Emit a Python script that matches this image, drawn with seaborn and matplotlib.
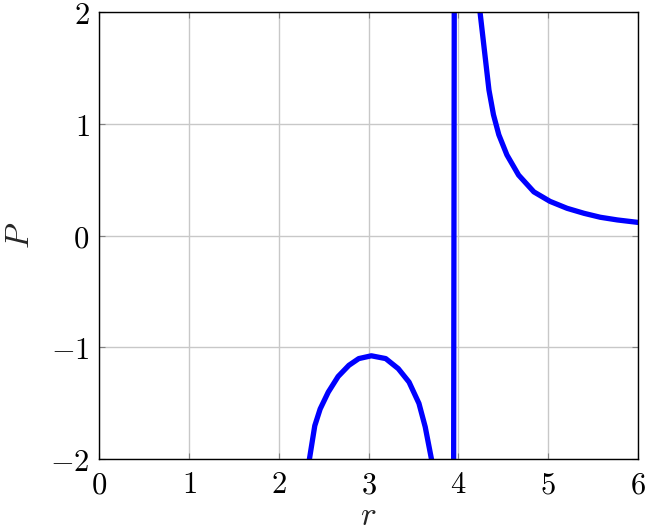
import matplotlib
matplotlib.use("Agg")
import matplotlib.pyplot as plt
import seaborn as sns
import pandas as pd

# values (r, P); points beyond the view are estimates
r_values = [2.30, 2.34, 2.40, 2.46, 2.55, 2.66, 2.78, 2.89, 3.03, 3.19, 3.33,
            3.45, 3.56, 3.63, 3.70, 3.80, 3.90, 4.00, 4.10, 4.24, 4.30, 4.34,
            4.39, 4.45, 4.54, 4.67, 4.84, 5.02, 5.21, 5.40, 5.58, 5.77, 6.00]
P_values = [-2.25, -2.00, -1.70, -1.55, -1.40, -1.26, -1.16, -1.10, -1.075, -1.10, -1.19,
            -1.31, -1.50, -1.71, -2.00, -2.90, -30.0, 30.0, 7.0, 2.00, 1.58, 1.30,
            1.08, 0.90, 0.72, 0.54, 0.39, 0.305, 0.243, 0.198, 0.163, 0.139, 0.117]
x_ticks = [0, 1, 2, 3, 4, 5, 6]
y_ticks = [-2, -1, 0, 1, 2]

df = pd.DataFrame({"r": r_values, "P": P_values})

sns.set_theme(style="whitegrid")
plt.rcParams["mathtext.fontset"] = "cm"
plt.rcParams["font.family"] = ["DejaVu Serif"]

fig = plt.figure(figsize=(6.46, 5.32), dpi=100)
ax = fig.add_axes([99.3 / 646, 1 - 459.3 / 532, (638 - 99.3) / 646, (459.3 - 11.7) / 532])

sns.lineplot(data=df, x="r", y="P", sort=False, estimator=None, ax=ax,
             color="#0000ff", linewidth=3.8, solid_joinstyle="round")

ax.set_xlim(0, 6)
ax.set_ylim(-2, 2)
ax.set_xticks(x_ticks)
ax.set_yticks(y_ticks)
fs = 22
ax.set_xticklabels([f"${v}$" for v in x_ticks], fontsize=fs)
ax.set_yticklabels([f"${v}$" for v in y_ticks], fontsize=fs)
ax.set_xlabel("$r$", fontsize=24, labelpad=0)
ax.set_ylabel("$P$", fontsize=24, labelpad=10)

ax.grid(True, color="#c8c8c8", linewidth=1.0)
ax.set_facecolor("white")
for s in ax.spines.values():
    s.set_color("black")
    s.set_linewidth(1.0)
ax.tick_params(axis="both", which="both", direction="in", length=4, width=0.8,
               color="#808080", top=True, right=True, bottom=True, left=True,
               pad=7, labelcolor="black")

fig.savefig("out.png", dpi=100)
